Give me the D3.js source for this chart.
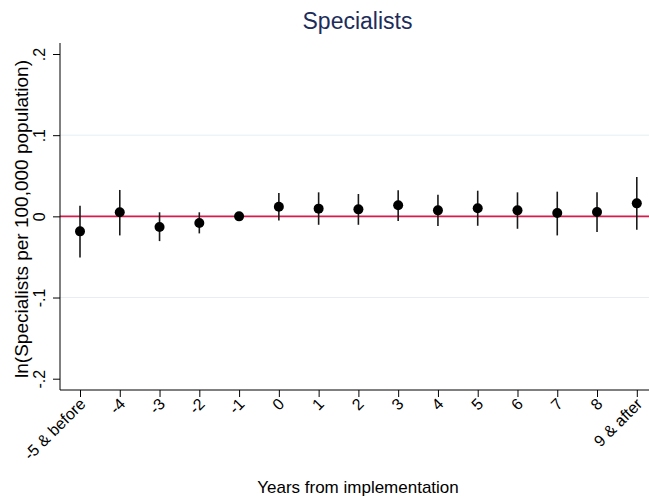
<!DOCTYPE html>
<html>
<head>
<meta charset="utf-8">
<script src="https://cdn.jsdelivr.net/npm/d3@7"></script>
<style>
  html, body { margin: 0; padding: 0; background: #ffffff; }
  svg { display: block; font-family: "Liberation Sans", Arial, Helvetica, sans-serif; }
</style>
</head>
<body>
<svg id="chart" width="649" height="498"></svg>
<script>
const categories = ["-5 & before", "-4", "-3", "-2", "-1", "0", "1", "2", "3", "4", "5", "6", "7", "8", "9 & after"];
const estimates = [-0.0185, 0.005, -0.0132, -0.0083, 0.0, 0.0119, 0.0095, 0.0086, 0.0136, 0.0074, 0.0099, 0.0074, 0.0041, 0.0053, 0.016];
const ciUpper   = [0.013, 0.0325, 0.005, 0.005, 0.0, 0.0288, 0.0296, 0.0275, 0.032, 0.0267, 0.0316, 0.0296, 0.0304, 0.0296, 0.0485];
const ciLower   = [-0.0506, -0.0235, -0.0305, -0.021, 0.0, -0.005, -0.0104, -0.0104, -0.0058, -0.012, -0.0116, -0.0153, -0.0235, -0.0194, -0.0165];
const yTicks = [-0.2, -0.1, 0, 0.1, 0.2];
const yTickLabels = ["-.2", "-.1", "0", ".1", ".2"];
const gridValues = [-0.1, 0.1];
const titleText = "Specialists";
const xTitleText = "Years from implementation";
const yTitleText = "ln(Specialists per 100,000 population)";

const svg = d3.select("#chart");
const plotLeft = 60, plotRight = 649, plotTop = 43, plotBottom = 390;

const x = d3.scaleLinear().domain([0, categories.length - 1]).range([80, 636.8]);
const y = d3.scaleLinear().domain([-0.2, 0.2]).range([378.7, 54]);

// grid lines
svg.append("g").selectAll("line").data(gridValues).join("line")
  .attr("x1", plotLeft).attr("x2", plotRight)
  .attr("y1", d => y(d)).attr("y2", d => y(d))
  .attr("stroke", "#e6eef1").attr("stroke-width", 1);

// zero reference line
svg.append("line")
  .attr("x1", plotLeft).attr("x2", plotRight)
  .attr("y1", y(0)).attr("y2", y(0))
  .attr("stroke", "#d81b4c").attr("stroke-width", 1.6);

// y axis
const yAxis = d3.axisLeft(y).tickValues(yTicks).tickSize(7).tickPadding(8)
  .tickFormat((d, i) => yTickLabels[i]);
const gy = svg.append("g").attr("transform", `translate(${plotLeft},0)`).call(yAxis);
gy.select(".domain").remove();
gy.selectAll(".tick line").attr("stroke", "#000").attr("stroke-width", 1);
gy.selectAll(".tick text")
  .attr("font-size", 16).attr("fill", "#000")
  .attr("x", null).attr("dy", null)
  .attr("text-anchor", "middle")
  .attr("transform", "translate(-15,0) rotate(-90)")
  .attr("y", 0);
svg.append("line").attr("x1", plotLeft).attr("x2", plotLeft)
  .attr("y1", plotTop).attr("y2", plotBottom)
  .attr("stroke", "#000").attr("stroke-width", 1);

// x axis
const xAxis = d3.axisBottom(x).tickValues(d3.range(categories.length)).tickSize(7)
  .tickFormat(i => categories[i]);
const gx = svg.append("g").attr("transform", `translate(0,${plotBottom})`).call(xAxis);
gx.select(".domain").remove();
gx.selectAll(".tick line").attr("stroke", "#000").attr("stroke-width", 1);
gx.selectAll(".tick text")
  .attr("font-size", 16).attr("fill", "#000")
  .attr("y", null).attr("dy", null)
  .attr("text-anchor", "end")
  .attr("transform", "translate(6,15) rotate(-45)");
svg.append("line").attr("x1", plotLeft).attr("x2", plotRight)
  .attr("y1", plotBottom).attr("y2", plotBottom)
  .attr("stroke", "#000").attr("stroke-width", 1);

// error bars
const idx = d3.range(categories.length);
svg.append("g").selectAll("line").data(idx).join("line")
  .attr("x1", i => x(i)).attr("x2", i => x(i))
  .attr("y1", i => y(ciLower[i])).attr("y2", i => y(ciUpper[i]))
  .attr("stroke", "#1a1a1a").attr("stroke-width", 1.6);

// points
svg.append("g").selectAll("circle").data(idx).join("circle")
  .attr("cx", i => x(i)).attr("cy", i => y(estimates[i]))
  .attr("r", 5).attr("fill", "#000");

// titles
svg.append("text").attr("x", 357.5).attr("y", 29)
  .attr("text-anchor", "middle").attr("font-size", 23).attr("fill", "#1c2d5b")
  .text(titleText);
svg.append("text").attr("x", 358).attr("y", 493)
  .attr("text-anchor", "middle").attr("font-size", 17).attr("fill", "#000")
  .text(xTitleText);
svg.append("text")
  .attr("transform", `translate(28,219) rotate(-90)`)
  .attr("text-anchor", "middle").attr("font-size", 19).attr("fill", "#000")
  .text(yTitleText);
</script>
</body>
</html>
